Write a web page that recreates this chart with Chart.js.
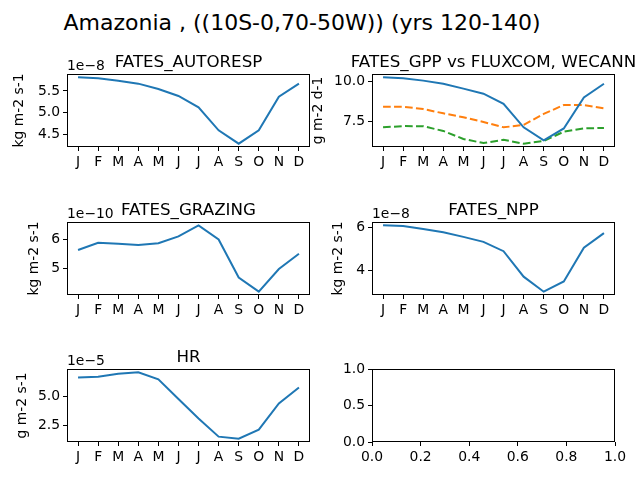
<!DOCTYPE html>
<html>
<head>
<meta charset="utf-8">
<script src="https://cdn.jsdelivr.net/npm/chart.js@4/dist/chart.umd.min.js"></script>
<style>
  body { margin: 0; background: #fff; width: 640px; height: 480px; position: relative; overflow: hidden; font-family: "DejaVu Sans", sans-serif; }
  canvas { position: absolute; }
  #suptitle { position: absolute; left: 0; width: 604px; top: 10px; text-align: center; font-size: 22px; line-height: 26px; color: #000; white-space: nowrap; }
</style>
</head>
<body>
<div id="suptitle">Amazonia , ((10S-0,70-50W)) (yrs 120-140)</div>
<canvas id="c1"></canvas>
<canvas id="c2"></canvas>
<canvas id="c3"></canvas>
<canvas id="c4"></canvas>
<canvas id="c5"></canvas>
<canvas id="c6"></canvas>
<script>
const months = ["J", "F", "M", "A", "M", "J", "J", "A", "S", "O", "N", "D"];

// FATES_AUTORESP, kg m-2 s-1, in units of 1e-8
const autoresp = [5.815, 5.792, 5.738, 5.669, 5.546, 5.385, 5.124, 4.594, 4.286, 4.594, 5.369, 5.669];
const autorespTicks = [4.5, 5.0, 5.5];

// FATES_GPP vs FLUXCOM, WECANN, g m-2 d-1
const gpp = [10.28, 10.22, 10.07, 9.87, 9.56, 9.24, 8.6, 7.1, 6.27, 7.03, 9.0, 9.87];
const fluxcom = [8.41, 8.41, 8.26, 7.99, 7.74, 7.44, 7.1, 7.25, 7.95, 8.52, 8.52, 8.31];
const wecann = [7.1, 7.18, 7.17, 6.87, 6.36, 6.1, 6.31, 6.06, 6.23, 6.82, 7.03, 7.06];
const gppTicks = [7.5, 10.0];

// FATES_GRAZING, kg m-2 s-1, in units of 1e-10
const grazing = [5.63, 5.88, 5.84, 5.80, 5.86, 6.10, 6.48, 5.99, 4.68, 4.19, 4.97, 5.50];
const grazingTicks = [5, 6];

// FATES_NPP, kg m-2 s-1, in units of 1e-8
const npp = [6.08, 6.05, 5.91, 5.76, 5.55, 5.32, 4.89, 3.72, 3.03, 3.50, 5.05, 5.72];
const nppTicks = [4, 6];

// HR, g m-2 s-1, in units of 1e-5
const hr = [6.70, 6.77, 7.03, 7.15, 6.53, 4.80, 3.09, 1.50, 1.32, 2.12, 4.41, 5.82];
const hrTicks = [2.5, 5.0];

// empty last panel
const emptyXTicks = [0, 0.2, 0.4, 0.6, 0.8, 1.0];
const emptyYTicks = [0, 0.5, 1.0];

Chart.defaults.font.family = "'DejaVu Sans', sans-serif";
Chart.defaults.font.size = 13.9;
Chart.defaults.color = '#000';
Chart.defaults.animation = false;

const blue = '#1f77b4', orange = '#ff7f0e', green = '#2ca02c';

// box frame, axes title and the offset text ("1e-8")
const frame = {
  id: 'frame',
  afterDraw(chart, args, o) {
    const { ctx, chartArea: a } = chart;
    ctx.save();
    ctx.strokeStyle = '#000';
    ctx.lineWidth = 1;
    ctx.strokeRect(a.left + 0.5, a.top + 0.5, a.right - a.left - 1, a.bottom - a.top - 1);
    ctx.fillStyle = '#000';
    ctx.textBaseline = 'alphabetic';
    if (o.title) {
      ctx.textAlign = 'center';
      ctx.font = "16.7px 'DejaVu Sans'";
      ctx.fillText(o.title, (a.left + a.right) / 2, a.top - 7);
    }
    if (o.offset) {
      ctx.textAlign = 'left';
      ctx.font = "13.9px 'DejaVu Sans'";
      ctx.fillText(o.offset, a.left, a.top - 4);
    }
    ctx.restore();
  }
};

// matplotlib-like 5% margins
function limits(series) {
  const all = series.flat();
  const lo = Math.min(...all), hi = Math.max(...all);
  const m = (hi - lo) * 0.05;
  return [lo - m, hi + m];
}

function axis(min, max, ticks, fmt, size, horizontal, title) {
  return {
    type: 'linear',
    min: min,
    max: max,
    afterBuildTicks: s => { s.ticks = ticks.map(v => ({ value: v })); },
    afterFit: s => { if (horizontal) s.height = size; else s.width = size; },
    ticks: { callback: fmt, padding: 3, autoSkip: false, maxRotation: 0, color: '#000' },
    grid: { drawOnChartArea: false, tickLength: 4, tickColor: '#000', tickWidth: 1 },
    border: { display: false },
    title: title ? { display: true, text: title, padding: 0, color: '#000' } : { display: false }
  };
}

function line(values, color, dashed) {
  return {
    data: months.map((m, i) => ({ x: i, y: values[i] })),
    borderColor: color,
    borderWidth: 2,
    borderDash: dashed ? [7.7, 3.3] : [],
    pointRadius: 0,
    fill: false,
    tension: 0
  };
}

// box = [left, top, right, bottom] of the axes frame in page pixels, L = room left of it
function panel(id, box, L, cfg) {
  const T = 40, R = 30, B = 30;
  const cv = document.getElementById(id);
  cv.width = box[2] - box[0] + L + R;
  cv.height = box[3] - box[1] + T + B;
  cv.style.left = (box[0] - L) + 'px';
  cv.style.top = (box[1] - T) + 'px';
  const monthAxis = axis(-0.55, 11.55, months.map((m, i) => i), v => months[v], B, true);
  let yLim = cfg.series.length ? limits(cfg.series) : [0, 1];
  new Chart(cv, {
    type: 'line',
    data: { datasets: cfg.datasets },
    options: {
      responsive: false,
      layout: { padding: { top: T, right: R, left: 0, bottom: 0 } },
      plugins: {
        legend: { display: false },
        tooltip: { enabled: false },
        frame: { title: cfg.title, offset: cfg.offset }
      },
      scales: {
        x: cfg.xAxis ? cfg.xAxis(B) : monthAxis,
        y: axis(yLim[0], yLim[1], cfg.yTicks, v => v.toFixed(cfg.dec), L, false, cfg.ylabel)
      }
    },
    plugins: [frame]
  });
}

panel('c1', [67, 74, 310, 147], 56, {
  title: 'FATES_AUTORESP', offset: '1e\u22128', ylabel: 'kg m-2 s-1',
  series: [autoresp], datasets: [line(autoresp, blue)], yTicks: autorespTicks, dec: 1
});

panel('c2', [372, 74, 615, 147], 62, {
  title: 'FATES_GPP vs FLUXCOM, WECANN', ylabel: 'g m-2 d-1',
  series: [gpp, fluxcom, wecann],
  datasets: [line(gpp, blue), line(fluxcom, orange, true), line(wecann, green, true)],
  yTicks: gppTicks, dec: 1
});

panel('c3', [67, 222, 310, 295], 41, {
  title: 'FATES_GRAZING', offset: '1e\u221210', ylabel: 'kg m-2 s-1',
  series: [grazing], datasets: [line(grazing, blue)], yTicks: grazingTicks, dec: 0
});

panel('c4', [372, 222, 615, 295], 42, {
  title: 'FATES_NPP', offset: '1e\u22128', ylabel: 'kg m-2 s-1',
  series: [npp], datasets: [line(npp, blue)], yTicks: nppTicks, dec: 0
});

panel('c5', [67, 369, 310, 442], 53, {
  title: 'HR', offset: '1e\u22125', ylabel: 'g m-2 s-1',
  series: [hr], datasets: [line(hr, blue)], yTicks: hrTicks, dec: 1
});

panel('c6', [372, 369, 615, 442], 50, {
  series: [], datasets: [], yTicks: emptyYTicks, dec: 1,
  xAxis: B => axis(0, 1, emptyXTicks, v => v.toFixed(1), B, true)
});
</script>
</body>
</html>
